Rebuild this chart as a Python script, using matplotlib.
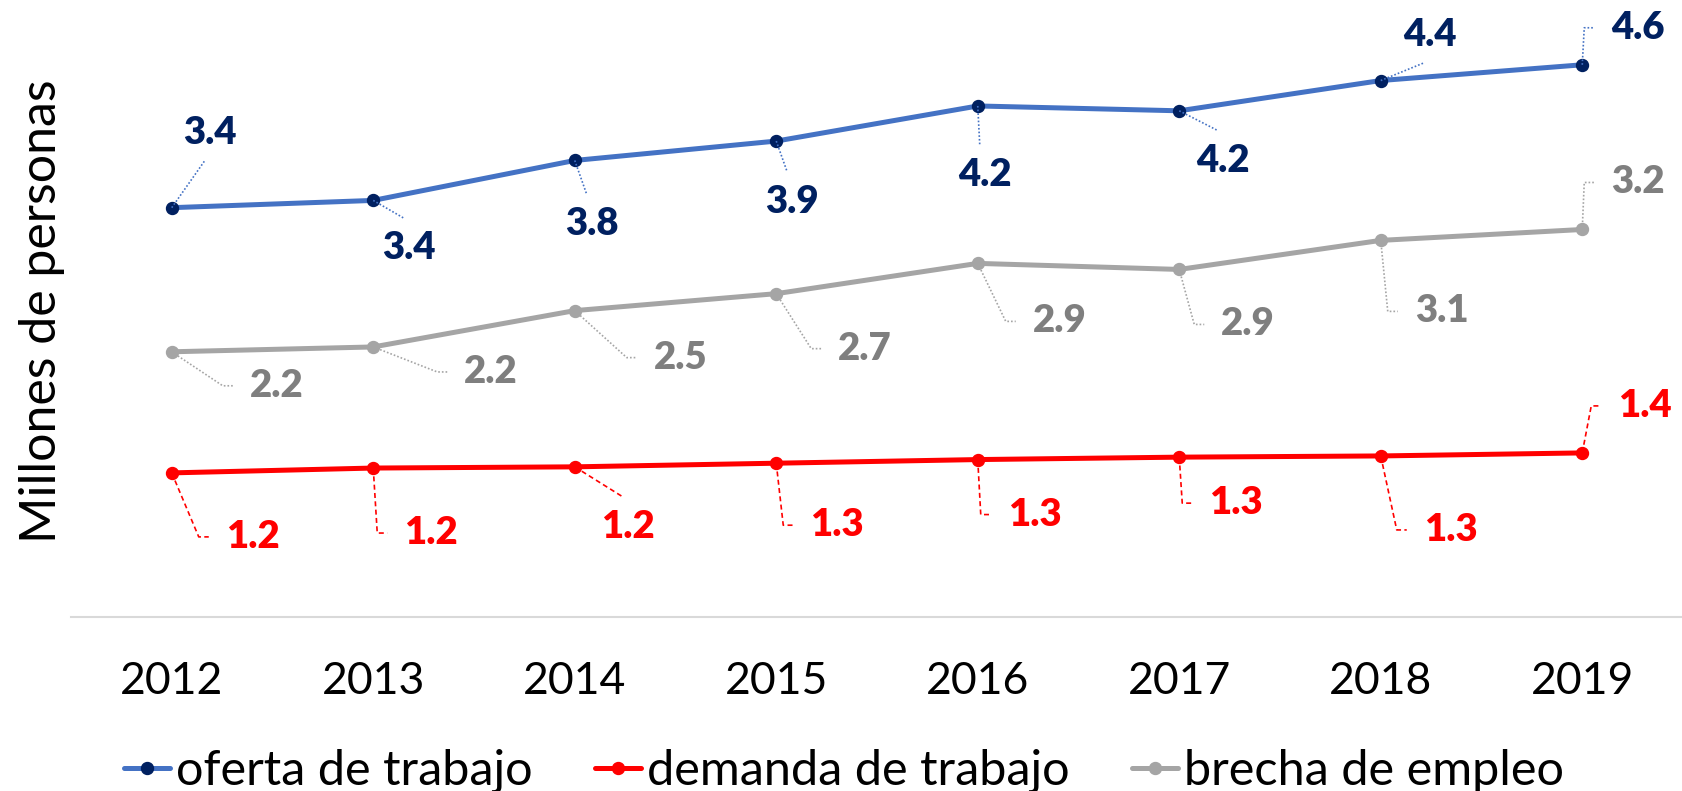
import matplotlib
matplotlib.use("Agg")
import matplotlib.pyplot as plt
from matplotlib import transforms
from matplotlib.lines import Line2D

# ---------------- data ----------------
years = ["2012", "2013", "2014", "2015", "2016", "2017", "2018", "2019"]
oferta = [3.38, 3.44, 3.77, 3.93, 4.22, 4.18, 4.43, 4.56]
demanda = [1.19, 1.23, 1.24, 1.27, 1.30, 1.32, 1.33, 1.355]
brecha = [2.19, 2.23, 2.53, 2.67, 2.92, 2.87, 3.11, 3.20]
series_names = ["oferta de trabajo", "demanda de trabajo", "brecha de empleo"]
ylabel = "Millones de personas"

# ---------------- style ----------------
FONT = "Lato"
line_colors = ["#4472C4", "#FF0000", "#A5A5A5"]
marker_colors = ["#002060", "#FF0000", "#A5A5A5"]
label_colors = ["#002060", "#FF0000", "#7F7F7F"]
leader_styles = [(0, (1, 1.2)), (0, (3, 2)), (0, (1, 1.2))]
leader_colors = ["#4472C4", "#FF0000", "#A5A5A5"]

# label offsets (pixels, +y = downward) relative to each data point
oferta_off = [(38, -75), (36, 48), (17, 64), (16, 61), (7, 69), (44, 50), (49, -46), (56, -37)]
demanda_off = [(81, 64), (58, 65), (53, 60), (61, 62), (57, 55), (57, 46), (70, 74), (63, -47)]
brecha_off = [(105, 34), (118, 25), (106, 47), (89, 55), (82, 58), (69, 55), (61, 71), (56, -47)]

W, H = 1683, 791
fig = plt.figure(figsize=(W / 100, H / 100), dpi=100)
ax = fig.add_axes([71 / W, 1 - 617 / H, 1 - 71 / W, 605.5 / H])

x = list(range(len(years)))
all_series = [oferta, demanda, brecha]
all_off = [oferta_off, demanda_off, brecha_off]

for i, vals in enumerate(all_series):
    ax.plot(x, vals, color=line_colors[i], lw=3.6, marker="o", ms=8.6,
            mfc=marker_colors[i], mec=marker_colors[i], label=series_names[i],
            solid_capstyle="round", zorder=3)

ax.set_xlim(-0.5, len(years) - 0.5)
ax.set_ylim(0, 5)
ax.set_xticks(x)
ax.set_xticklabels(years, fontsize=32, fontfamily=FONT)
ax.tick_params(axis="x", length=0, pad=32)
ax.set_yticks([])
for s in ["top", "right", "left"]:
    ax.spines[s].set_visible(False)
ax.spines["bottom"].set_color("#D9D9D9")
ax.spines["bottom"].set_linewidth(1.5)

fig.text(42 / W, 1 - 311 / H, ylabel, rotation=90, ha="center", va="center",
         fontsize=36, fontfamily=FONT)

HW, HH = 27, 14  # approx half sizes of a data label in pixels
for i, vals in enumerate(all_series):
    for xi, v in enumerate(vals):
        dx, dy = all_off[i][xi]
        ax.annotate(f"{v:.1f}", xy=(xi, v), xytext=(dx, -dy), textcoords="offset pixels",
                    ha="center", va="center", fontsize=27.5, fontweight="heavy",
                    fontfamily=FONT, color=label_colors[i], zorder=5)
        px, py = ax.transData.transform((xi, v))
        tr = transforms.Affine2D().translate(px, py)
        left = dx - HW
        if left - 27 >= 0:
            xs, ys = [0, left - 27, left - 17], [0, dy, dy]
        else:
            ey = dy - HH - 16 if dy > 0 else dy + HH + 14
            xs, ys = [0, dx - 5], [0, ey]
        ln = Line2D(xs, [-y for y in ys], transform=tr, color=leader_colors[i],
                    lw=1.2, linestyle=leader_styles[i], zorder=2)
        fig.add_artist(ln)

leg = fig.legend(loc="center", bbox_to_anchor=(844 / W, 1 - 771 / H), ncol=3,
                 frameon=False, prop={"family": FONT, "size": 35},
                 handlelength=0.95, handletextpad=0.12, columnspacing=1.28,
                 borderaxespad=0, borderpad=0)

fig.savefig("out.png", dpi=100, facecolor="white")
